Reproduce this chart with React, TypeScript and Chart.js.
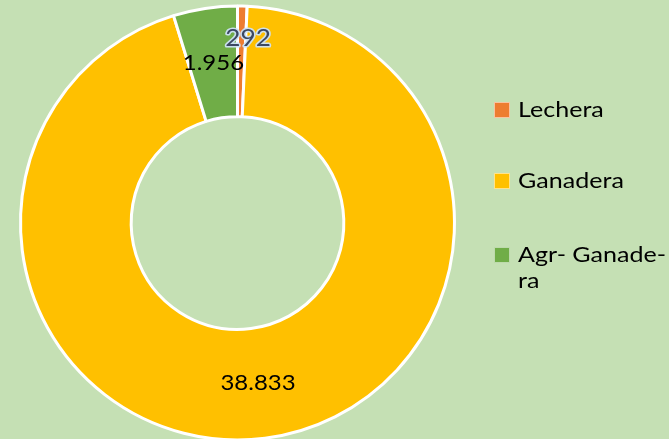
import React, { useEffect, useRef } from "react";
import { Chart, registerables } from "chart.js";

Chart.register(...registerables);

const categories = ["Lechera", "Ganadera", "Agr- Ganadera"];
const legendLines = [["Lechera"], ["Ganadera"], ["Agr- Ganade-", "ra"]];
const values = [292, 38833, 1956];
const valueLabels = ["292", "38.833", "1.956"];
const colors = ["#ED7D31", "#FFC000", "#70AD47"];

const BG = "#C5E0B4";
const labelShift = [
  [7, -23],
  [0, 0],
  [0, 0],
];

const labelPlugin = {
  id: "sliceLabels",
  afterDatasetsDraw(chart: any) {
    const ctx = chart.ctx;
    const meta = chart.getDatasetMeta(0);
    meta.data.forEach((el: any, i: number) => {
      const p = el.tooltipPosition();
      const x = p.x + labelShift[i][0];
      const y = p.y + labelShift[i][1];
      ctx.save();
      ctx.translate(x, y);
      ctx.scale(1.09, 1);
      ctx.textAlign = "center";
      ctx.textBaseline = "middle";
      if (i === 0) {
        ctx.font = "24px Lato";
        ctx.lineJoin = "round";
        ctx.lineWidth = 3;
        ctx.strokeStyle = "rgba(205,225,245,0.95)";
        ctx.strokeText(valueLabels[i], 0, 0);
        ctx.fillStyle = "#3B4862";
        ctx.fillText(valueLabels[i], 0, 0);
      } else {
        ctx.font = "22px Lato";
        ctx.fillStyle = "#000000";
        ctx.fillText(valueLabels[i], 0, 0);
      }
      ctx.restore();
    });
  },
};

export default function App() {
  const canvasRef = useRef<HTMLCanvasElement | null>(null);

  useEffect(() => {
    document.body.style.margin = "0";
    const chart = new Chart(canvasRef.current as HTMLCanvasElement, {
      type: "doughnut",
      data: {
        labels: categories,
        datasets: [
          {
            data: values,
            backgroundColor: colors,
            borderColor: "#FFFFFF",
            borderWidth: 3,
          },
        ],
      },
      options: {
        responsive: false,
        animation: false,
        cutout: "49%",
        layout: { padding: { left: 19, top: 4.5, right: 213, bottom: 8.5 } },
        plugins: {
          legend: { display: false },
          tooltip: { enabled: false },
        },
      },
      plugins: [labelPlugin],
    });
    return () => chart.destroy();
  }, []);

  const itemTops = [95.5, 166.5, 240.5];

  return (
    <div
      style={{
        position: "relative",
        width: 669,
        height: 439,
        overflow: "hidden",
        background: BG,
      }}
    >
      <canvas
        ref={canvasRef}
        width={669}
        height={450}
        style={{ display: "block", position: "absolute", left: 0, top: 0 }}
      />
      {categories.map((c, i) => (
        <div
          key={c}
          style={{
            position: "absolute",
            left: 494,
            top: itemTops[i],
            display: "flex",
            alignItems: "flex-start",
            fontFamily: "Lato, sans-serif",
            fontSize: 22,
            lineHeight: "26px",
            color: "#000",
            whiteSpace: "nowrap",
          }}
        >
          <span
            style={{
              display: "inline-block",
              boxSizing: "border-box",
              width: 16,
              height: 16,
              marginTop: 6,
              marginRight: 8,
              background: colors[i],
              border: "1px solid rgba(255,255,255,0.55)",
              flex: "none",
            }}
          />
          <span
            style={{
              display: "inline-block",
              transform: "scaleX(1.14)",
              transformOrigin: "0 0",
            }}
          >
            {legendLines[i].map((l, j) => (
              <React.Fragment key={j}>
                {j > 0 && <br />}
                {l}
              </React.Fragment>
            ))}
          </span>
        </div>
      ))}
    </div>
  );
}
